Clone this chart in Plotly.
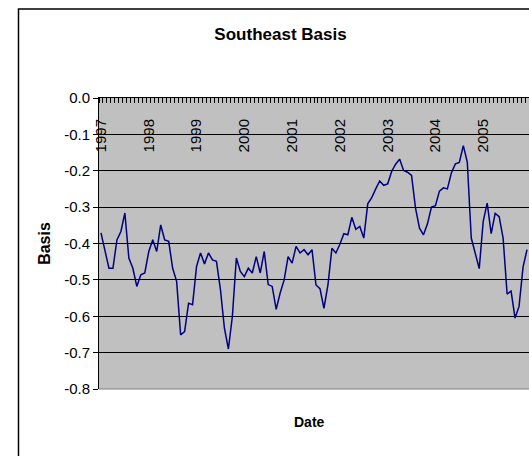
import plotly.graph_objects as go

# ---- data (monthly Southeast basis, Jan 1997 - Dec 2005) ----
years = ["1997", "1998", "1999", "2000", "2001", "2002", "2003", "2004", "2005"]
months_per_year = 12
basis = [
    -0.371, -0.417, -0.468, -0.468, -0.390, -0.367, -0.316, -0.440, -0.468, -0.518, -0.486, -0.481,
    -0.422, -0.390, -0.422, -0.349, -0.390, -0.394, -0.468, -0.504, -0.651, -0.642, -0.564, -0.568,
    -0.463, -0.426, -0.456, -0.426, -0.445, -0.449, -0.527, -0.633, -0.690, -0.600, -0.440, -0.477,
    -0.491, -0.468, -0.481, -0.436, -0.481, -0.422, -0.513, -0.518, -0.581, -0.536, -0.500, -0.436,
    -0.454, -0.408, -0.426, -0.417, -0.431, -0.417, -0.514, -0.524, -0.578, -0.514, -0.413, -0.426,
    -0.402, -0.373, -0.376, -0.328, -0.361, -0.353, -0.385, -0.291, -0.274, -0.250, -0.228, -0.240,
    -0.236, -0.202, -0.182, -0.168, -0.199, -0.204, -0.213, -0.303, -0.358, -0.376, -0.346, -0.300,
    -0.296, -0.256, -0.247, -0.250, -0.206, -0.181, -0.177, -0.131, -0.176, -0.385, -0.427, -0.469,
    -0.339, -0.289, -0.373, -0.317, -0.326, -0.385, -0.539, -0.531, -0.605, -0.573, -0.465, -0.417,
]
y_tick_values = [0.0, -0.1, -0.2, -0.3, -0.4, -0.5, -0.6, -0.7, -0.8]
y_tick_labels = ["0.0", "-0.1", "-0.2", "-0.3", "-0.4", "-0.5", "-0.6", "-0.7", "-0.8"]

month_index = list(range(len(basis)))
year_positions = [k * months_per_year for k in range(len(years))]

W, H = 529, 456
ML, MR, MT, MB = 99, 0, 98, 67
PW, PH = W - ML - MR, H - MT - MB

def px_x(px):
    return (px - ML) / PW

def px_y(py):
    return (H - MB - py) / PH

FONT = "Liberation Sans, Arial, sans-serif"
XRANGE = [-0.5, len(basis) - 0.5]

fig = go.Figure()
fig.add_trace(go.Scatter(
    x=month_index, y=basis, mode="lines",
    line=dict(color="#000080", width=1.5),
    showlegend=False, hoverinfo="skip",
))
# empty trace so that the year-label axis (x2) gets drawn
fig.add_trace(go.Scatter(
    x=[], y=[], xaxis="x2", yaxis="y", mode="lines",
    showlegend=False, hoverinfo="skip",
))

fig.update_layout(
    width=W, height=H,
    margin=dict(l=ML, r=MR, t=MT, b=MB, pad=0),
    paper_bgcolor="white",
    plot_bgcolor="#C0C0C0",
    font=dict(family=FONT, color="black", size=15),
    title=dict(
        text="<b>Southeast Basis</b>",
        font=dict(family=FONT, size=17, color="black"),
        xref="container", yref="container",
        x=280.5 / W, y=(H - 34.5) / H, xanchor="center", yanchor="middle",
    ),
    # category axis line at value 0 (top), with a tick between every month
    xaxis=dict(
        range=XRANGE,
        side="top",
        showline=True, linecolor="black", linewidth=1,
        showgrid=False, zeroline=False,
        showticklabels=False,
        ticks="",
        minor=dict(ticks="inside", tick0=-0.5, dtick=1, ticklen=5,
                   tickcolor="black", tickwidth=1, showgrid=False),
        fixedrange=True,
    ),
    # year labels, drawn just under the top axis line
    xaxis2=dict(
        range=XRANGE,
        overlaying="x", anchor="free", position=px_y(115), side="bottom",
        showline=False, showgrid=False, zeroline=False,
        tickmode="array", tickvals=year_positions, ticktext=years,
        ticks="", tickangle=-90,
        tickfont=dict(family=FONT, size=15, color="black"),
        fixedrange=True,
    ),
    yaxis=dict(
        range=[-0.8, 0.0],
        showline=True, linecolor="black", linewidth=1,
        showgrid=True, gridcolor="black", gridwidth=1,
        zeroline=False,
        tickmode="array", tickvals=y_tick_values, ticktext=y_tick_labels,
        ticks="outside", ticklen=5, tickcolor="black",
        tickfont=dict(family=FONT, size=15, color="black"),
        title=dict(text="<b>Basis</b>", standoff=9,
                   font=dict(family=FONT, size=16, color="black")),
        fixedrange=True,
    ),
    shapes=[
        # plot-area bottom border
        dict(type="line", xref="paper", yref="paper", x0=0, x1=1, y0=0, y1=0,
             line=dict(color="#808080", width=1)),
        # chart-area border
        dict(type="rect", xref="paper", yref="paper",
             x0=px_x(18.5), x1=px_x(545), y0=px_y(475), y1=px_y(9),
             line=dict(color="black", width=1.5), fillcolor="rgba(0,0,0,0)",
             layer="above"),
    ],
    annotations=[
        dict(text="<b>Date</b>", xref="paper", yref="paper",
             x=px_x(309.5), y=px_y(421.5), xanchor="center", yanchor="middle",
             showarrow=False, font=dict(family=FONT, size=14, color="black")),
    ],
)

fig.write_html("out.html", config={"displayModeBar": False},
               post_script="document.body.style.margin='0';")
